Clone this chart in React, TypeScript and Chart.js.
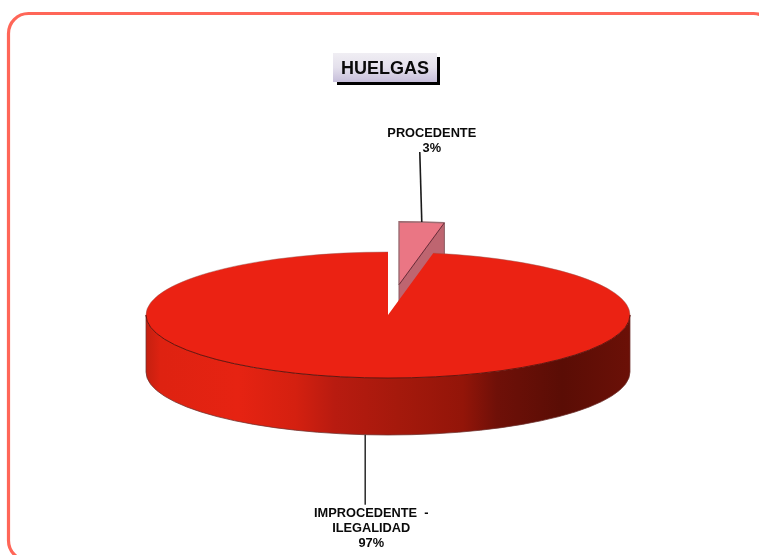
import React, { useEffect, useRef } from "react";
import { Chart, registerables } from "chart.js";

Chart.register(...registerables);

const titleText = "HUELGAS";
const categories = ["PROCEDENTE", "IMPROCEDENTE - ILEGALIDAD"];
const percentages = [3, 97];
const labelLines = [
  ["PROCEDENTE", "3%"],
  ["IMPROCEDENTE  -", "ILEGALIDAD", "97%"],
];
const topColors = ["#EA7684", "#EB2213"];

const W = 759;
const H = 555;
const RADIUS = 242;
const SQUASH = 63 / 242;
const DEPTH = 57;
const EXPLODE = 117;
const LEADER = 70;
const FONT = '"Liberation Sans", Arial, sans-serif';

function squash(ctx: CanvasRenderingContext2D, cy: number, dy = 0) {
  ctx.translate(0, cy + dy);
  ctx.scale(1, SQUASH);
  ctx.translate(0, -cy);
}

function centerY(chart: any) {
  return (chart.chartArea.top + chart.chartArea.bottom) / 2;
}

function screenPoint(arc: any, angle: number, cy: number, r = arc.outerRadius) {
  return {
    x: arc.x + Math.cos(angle) * r,
    y: cy + (arc.y + Math.sin(angle) * r - cy) * SQUASH,
  };
}

const pie3d = {
  id: "pie3d",
  beforeDraw(chart: any) {
    const ctx = chart.ctx as CanvasRenderingContext2D;
    ctx.save();
    ctx.fillStyle = "#ffffff";
    ctx.fillRect(0, 0, W, H);
    ctx.strokeStyle = "#FF6658";
    ctx.lineWidth = 3.2;
    ctx.beginPath();
    ctx.roundRect(8.5, 13.5, 765, 547, 20);
    ctx.stroke();

    // title box
    ctx.fillStyle = "#000000";
    ctx.fillRect(337, 57, 103, 28);
    const g = ctx.createLinearGradient(0, 53, 0, 82);
    g.addColorStop(0, "#F0EEF3");
    g.addColorStop(0.5, "#E4E0EC");
    g.addColorStop(1, "#C6BEDA");
    ctx.fillStyle = g;
    ctx.fillRect(333, 53, 104, 29);
    ctx.fillStyle = "#0A0A0A";
    ctx.font = `bold 18px ${FONT}`;
    ctx.textAlign = "center";
    ctx.textBaseline = "alphabetic";
    ctx.fillText(titleText, 385, 74);
    ctx.restore();
  },
  afterDatasetsUpdate(chart: any) {
    const small = chart.getDatasetMeta(0).data[0];
    const mid = (small.startAngle + small.endAngle) / 2;
    small.x += Math.cos(mid) * EXPLODE;
    small.y += Math.sin(mid) * EXPLODE;
  },
  beforeDatasetsDraw(chart: any) {
    const ctx = chart.ctx as CanvasRenderingContext2D;
    const cy = centerY(chart);
    const [small, big] = chart.getDatasetMeta(0).data;

    // cut face of the exploded slice
    const apex = screenPoint(small, 0, cy, 0);
    const edge = screenPoint(small, small.endAngle, cy);
    ctx.save();
    ctx.beginPath();
    ctx.moveTo(apex.x, apex.y);
    ctx.lineTo(edge.x, edge.y);
    ctx.lineTo(edge.x, edge.y + DEPTH);
    ctx.lineTo(apex.x, apex.y + DEPTH);
    ctx.closePath();
    ctx.fillStyle = "#BE6570";
    ctx.fill();
    ctx.strokeStyle = "#8A5A60";
    ctx.lineWidth = 1;
    ctx.stroke();

    // front wall of the large slice
    ctx.beginPath();
    ctx.save();
    squash(ctx, cy);
    ctx.arc(big.x, big.y, big.outerRadius, 0, Math.PI);
    ctx.restore();
    ctx.save();
    squash(ctx, cy, DEPTH);
    ctx.arc(big.x, big.y, big.outerRadius, Math.PI, 0, true);
    ctx.restore();
    ctx.closePath();
    const x0 = big.x - big.outerRadius;
    const span = big.outerRadius * 2;
    const wall = ctx.createLinearGradient(x0, 0, x0 + span, 0);
    const stops: [number, string][] = [
      [0, "#C42010"],
      [0.03, "#DE2211"],
      [0.19, "#E62312"],
      [0.31, "#D42010"],
      [0.39, "#B81B10"],
      [0.52, "#A5190C"],
      [0.655, "#931509"],
      [0.725, "#6F1008"],
      [0.86, "#5A0D05"],
      [1, "#6B1007"],
    ];
    stops.forEach(([p, c]) => wall.addColorStop(p, c));
    ctx.fillStyle = wall;
    ctx.fill();
    ctx.strokeStyle = "rgba(110,50,45,0.75)";
    ctx.lineWidth = 1;
    ctx.stroke();
    ctx.restore();
  },
  beforeDatasetDraw(chart: any) {
    const ctx = chart.ctx as CanvasRenderingContext2D;
    ctx.save();
    squash(ctx, centerY(chart));
  },
  afterDatasetDraw(chart: any) {
    chart.ctx.restore();
  },
  afterDatasetsDraw(chart: any) {
    const ctx = chart.ctx as CanvasRenderingContext2D;
    const cy = centerY(chart);
    const [small, big] = chart.getDatasetMeta(0).data;

    // Outlines: built under the squash, stroked at an even width.
    ctx.save();
    ctx.beginPath();
    ctx.save();
    squash(ctx, cy);
    ctx.arc(big.x, big.y, big.outerRadius, 0, Math.PI);
    ctx.restore();
    ctx.strokeStyle = "rgba(90,15,8,0.85)";
    ctx.lineWidth = 1;
    ctx.stroke();

    // back rim of the large slice, on both sides of the gap
    ctx.beginPath();
    ctx.save();
    squash(ctx, cy);
    ctx.arc(big.x, big.y, big.outerRadius, Math.PI, Math.PI * 1.5);
    ctx.restore();
    ctx.moveTo(
      big.x + Math.cos(big.startAngle) * big.outerRadius,
      cy + (big.y + Math.sin(big.startAngle) * big.outerRadius - cy) * SQUASH
    );
    ctx.save();
    squash(ctx, cy);
    ctx.arc(big.x, big.y, big.outerRadius, big.startAngle, 0);
    ctx.restore();
    ctx.strokeStyle = "rgba(150,90,85,0.45)";
    ctx.stroke();

    // exploded slice outline, on its exposed top and left sides
    const apex = screenPoint(small, 0, cy, 0);
    const edge = screenPoint(small, small.endAngle, cy);
    const a = screenPoint(small, small.startAngle, cy);
    ctx.beginPath();
    ctx.moveTo(apex.x, apex.y);
    ctx.lineTo(a.x, a.y);
    ctx.save();
    squash(ctx, cy);
    ctx.arc(small.x, small.y, small.outerRadius, small.startAngle, small.endAngle);
    ctx.restore();
    ctx.strokeStyle = "#9A6C72";
    ctx.lineWidth = 1.4;
    ctx.stroke();
    ctx.beginPath();
    ctx.moveTo(apex.x, apex.y);
    ctx.lineTo(edge.x, edge.y);
    ctx.strokeStyle = "#6E2A38";
    ctx.lineWidth = 1;
    ctx.stroke();

    // leaders and labels
    ctx.fillStyle = "#0A0A0A";
    ctx.font = `bold 12.8px ${FONT}`;
    ctx.textAlign = "center";
    ctx.textBaseline = "alphabetic";

    const midSmall = (small.startAngle + small.endAngle) / 2;
    const s = screenPoint(small, midSmall, cy);
    ctx.strokeStyle = "#1A1A1A";
    ctx.lineWidth = 1.6;
    ctx.beginPath();
    ctx.moveTo(s.x, s.y);
    ctx.lineTo(s.x - 2, s.y - LEADER);
    ctx.stroke();
    labelLines[0].forEach((line, i) => {
      ctx.fillText(line, s.x + 10, s.y - LEADER - 15 + i * 15);
    });

    const midBig = (big.startAngle + big.endAngle) / 2;
    const b = screenPoint(big, midBig, cy);
    ctx.strokeStyle = "#333333";
    ctx.beginPath();
    ctx.moveTo(b.x, b.y + DEPTH);
    ctx.lineTo(b.x, b.y + DEPTH + LEADER);
    ctx.stroke();
    labelLines[1].forEach((line, i) => {
      ctx.fillText(line, b.x + 6, b.y + DEPTH + LEADER + 12 + i * 15);
    });
    ctx.restore();
  },
};

export default function App() {
  const ref = useRef<HTMLCanvasElement>(null);

  useEffect(() => {
    if (!ref.current) return;
    const chart = new Chart(ref.current, {
      type: "pie",
      data: {
        labels: categories,
        datasets: [
          {
            data: percentages,
            backgroundColor: topColors,
            borderWidth: 0,
            clip: false,
          } as any,
        ],
      },
      options: {
        responsive: false,
        animation: false,
        events: [],
        radius: RADIUS,
        layout: { padding: { left: 17, top: 75, right: 0, bottom: 0 } },
        plugins: {
          legend: { display: false },
          title: { display: false },
          tooltip: { enabled: false },
        },
      } as any,
      plugins: [pie3d],
    });
    return () => chart.destroy();
  }, []);

  return (
    <div style={{ position: "fixed", left: 0, top: 0, width: W, height: H, overflow: "hidden", background: "#fff" }}>
      <canvas ref={ref} width={W} height={H} style={{ display: "block" }} />
    </div>
  );
}
